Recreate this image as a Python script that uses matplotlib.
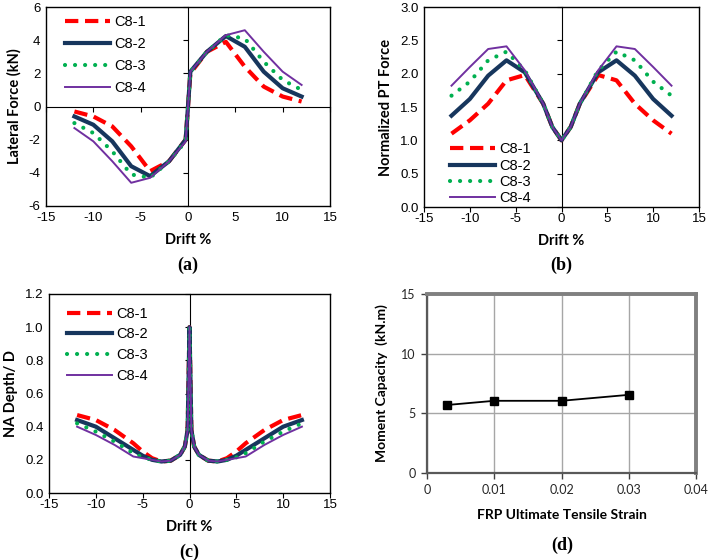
import numpy as np
import matplotlib
matplotlib.use('Agg')
import matplotlib.pyplot as plt

plt.rcParams['axes.unicode_minus'] = False

# ---------- data ----------
series = ['C8-1', 'C8-2', 'C8-3', 'C8-4']
colors = ['#FF0000', '#17365D', '#00B050', '#7030A0']

# (a) lateral force vs drift
drift_a = [-12, -10, -8, -6, -4, -2, -0.25, 0, 0.25, 2, 4, 6, 8, 10, 12]
force_c81 = [-0.3, -0.6, -1.2, -2.4, -3.9, -3.3, -2.0, 0, 2.0, 3.3, 3.9, 2.4, 1.2, 0.6, 0.3]
force_c82 = [-0.6, -1.1, -2.1, -3.6, -4.2, -3.3, -2.0, 0, 2.1, 3.3, 4.25, 3.6, 2.1, 1.1, 0.6]
force_c83 = [-1.0, -1.6, -2.7, -4.1, -4.3, -3.3, -2.1, 0, 2.1, 3.3, 4.3, 4.1, 2.7, 1.6, 1.0]
force_c84 = [-1.3, -2.1, -3.3, -4.6, -4.3, -3.3, -2.1, 0, 2.1, 3.3, 4.3, 4.6, 3.3, 2.1, 1.3]

# (b) normalized PT force vs drift
drift_b = [-12, -10, -8, -6, -4, -2, -1, 0, 1, 2, 4, 6, 8, 10, 12]
pt_c81 = [1.1, 1.3, 1.55, 1.9, 1.98, 1.55, 1.2, 1.0, 1.2, 1.55, 1.98, 1.9, 1.55, 1.3, 1.1]
pt_c82 = [1.37, 1.62, 1.97, 2.2, 2.02, 1.55, 1.2, 1.0, 1.2, 1.55, 2.02, 2.2, 1.97, 1.62, 1.37]
pt_c83 = [1.67, 1.88, 2.2, 2.33, 2.05, 1.55, 1.2, 1.0, 1.2, 1.55, 2.05, 2.33, 2.2, 1.88, 1.67]
pt_c84 = [1.82, 2.1, 2.37, 2.41, 2.05, 1.55, 1.2, 1.0, 1.2, 1.55, 2.05, 2.41, 2.37, 2.1, 1.82]

# (c) NA depth / D vs drift
drift_c = [-12, -10, -8, -6, -5, -4, -3, -2, -1, -0.5, -0.2, 0,
           0.2, 0.5, 1, 2, 3, 4, 5, 6, 8, 10, 12]
na_c81 = [0.47, 0.44, 0.38, 0.30, 0.25, 0.21, 0.19, 0.195, 0.23, 0.28, 0.38, 1.0,
          0.38, 0.28, 0.23, 0.195, 0.19, 0.21, 0.25, 0.30, 0.38, 0.44, 0.47]
na_c82 = [0.44, 0.40, 0.33, 0.26, 0.225, 0.2, 0.19, 0.195, 0.23, 0.28, 0.38, 1.0,
          0.38, 0.28, 0.23, 0.195, 0.19, 0.2, 0.225, 0.26, 0.33, 0.40, 0.44]
na_c83 = [0.42, 0.37, 0.31, 0.24, 0.215, 0.2, 0.19, 0.195, 0.23, 0.28, 0.38, 1.0,
          0.38, 0.28, 0.23, 0.195, 0.19, 0.2, 0.215, 0.24, 0.31, 0.37, 0.42]
na_c84 = [0.40, 0.35, 0.29, 0.22, 0.21, 0.2, 0.19, 0.195, 0.23, 0.28, 0.38, 1.0,
          0.38, 0.28, 0.23, 0.195, 0.19, 0.2, 0.21, 0.22, 0.29, 0.35, 0.40]

# (d) moment capacity vs FRP strain
frp_strain = [0.003, 0.01, 0.02, 0.03]
moment_cap = [5.7, 6.05, 6.05, 6.55]

W, H = 710, 560
fig = plt.figure(figsize=(W / 100, H / 100), dpi=100)

tick_font = 'Liberation Sans'
label_font = 'Lato'


def px_box(x0, y0, x1, y1):
    return [x0 / W, 1 - y1 / H, (x1 - x0) / W, (y1 - y0) / H]


def style_kwargs(i):
    if i == 0:
        return dict(color=colors[0], lw=3.0, ls=(0, (3.2, 1.6)))
    if i == 1:
        return dict(color=colors[1], lw=3.0, ls='-')
    if i == 2:
        return dict(color=colors[2], lw=3.0, ls=(0, (0.01, 2.4)), dash_capstyle='round')
    return dict(color=colors[3], lw=1.4, ls='-')


def cross_panel(box, x, ys, xlim, ylim, yticks, xlabel, ylabel, tag, tag_y,
                leg_anchor, leg_loc, yfmt, hline=False, leg_spacing=0.5):
    # frame + tick labels
    base = fig.add_axes(box)
    base.set_xlim(*xlim)
    base.set_ylim(*ylim)
    base.set_xticks(np.arange(-15, 16, 5))
    base.set_yticks(yticks)
    base.set_yticklabels([yfmt.format(v) for v in yticks])
    base.tick_params(length=0, labelsize=9.5, pad=4)
    for lab in base.get_xticklabels() + base.get_yticklabels():
        lab.set_fontfamily(tick_font)
    for s in base.spines.values():
        s.set_linewidth(1.0)
        s.set_color('black')
    base.set_xlabel(xlabel, fontfamily=label_font, fontweight='bold', fontsize=10.5, labelpad=7)
    base.set_ylabel(ylabel, fontfamily=label_font, fontweight='bold', fontsize=10.5, labelpad=5)

    # axes crossing at zero, with the ticks
    ax = fig.add_axes(box, sharex=base, sharey=base)
    ax.patch.set_visible(False)
    ax.spines['top'].set_visible(False)
    ax.spines['right'].set_visible(False)
    ax.spines['left'].set_position(('data', 0))
    ax.spines['bottom'].set_position(('data', 0))
    ax.spines['left'].set_linewidth(0.8)
    ax.spines['bottom'].set_linewidth(0.8 if hline else 0)
    ax.tick_params(direction='out', length=3.5, width=0.8, labelleft=False, labelbottom=False)

    for i, (name, y) in enumerate(zip(series, ys)):
        ax.plot(x, y, label=name, **style_kwargs(i), zorder=3)
    ax.legend(loc=leg_loc, bbox_to_anchor=leg_anchor, frameon=False, handlelength=3.1,
              handletextpad=0.3, labelspacing=leg_spacing, borderpad=0, borderaxespad=0,
              prop={'family': tick_font, 'size': 10.5})
    fig.text(box[0] + box[2] / 2, 1 - tag_y / H, tag, ha='center', va='center',
             fontfamily='Liberation Serif', fontweight='bold', fontsize=13)
    return ax


# (a)
cross_panel(px_box(46, 7, 330, 206), drift_a, [force_c81, force_c82, force_c83, force_c84],
            (-15, 15), (-6, 6), np.arange(-6, 7, 2), 'Drift %', 'Lateral Force (kN)',
            '(a)', 265, (0.067, 0.96), 'upper left', '{:.0f}', hline=True, leg_spacing=0.55)

# (b)
cross_panel(px_box(424, 7, 699, 207), drift_b, [pt_c81, pt_c82, pt_c83, pt_c84],
            (-15, 15), (0, 3), np.arange(0, 3.01, 0.5), 'Drift %', 'Normalized PT Force',
            '(b)', 265, (0.095, 0.01), 'lower left', '{:.1f}', leg_spacing=0.15)

# (c)
cross_panel(px_box(49, 294, 330, 493), drift_c, [na_c81, na_c82, na_c83, na_c84],
            (-15, 15), (0, 1.2), np.arange(0, 1.21, 0.2), 'Drift %', 'NA Depth/ D',
            '(c)', 552, (0.064, 0.935), 'upper left', '{:.1f}', leg_spacing=0.45)

# (d)
axd = fig.add_axes(px_box(427, 294, 696, 473))
axd.plot(frp_strain, moment_cap, color='black', lw=1.3, marker='s', ms=6, zorder=3)
axd.set_xlim(0, 0.04)
axd.set_ylim(0, 15)
axd.set_xticks([0, 0.01, 0.02, 0.03, 0.04])
axd.set_xticklabels(['0', '0.01', '0.02', '0.03', '0.04'])
axd.set_yticks([0, 5, 10, 15])
axd.grid(True, color='#A6A6A6', lw=1.0)
axd.set_axisbelow(True)
for s in axd.spines.values():
    s.set_color('#808080')
    s.set_linewidth(2.8)
axd.spines['left'].set_linewidth(1.6)
axd.spines['left'].set_color('#595959')
axd.spines['bottom'].set_linewidth(1.6)
axd.spines['bottom'].set_color('#595959')
axd.tick_params(direction='out', length=4, width=1, color='#404040', labelsize=9,
                labelcolor='#262626', pad=4)
for lab in axd.get_xticklabels() + axd.get_yticklabels():
    lab.set_fontfamily(label_font)
axd.set_xlabel('FRP Ultimate Tensile Strain', fontfamily=label_font, fontweight='bold',
               fontsize=10, labelpad=9)
axd.set_ylabel('Moment Capacity  (kN.m)', fontfamily=label_font, fontweight='bold',
               fontsize=10, labelpad=10)
fig.text((427 + 698) / 2 / W, 1 - 545 / H, '(d)', ha='center', va='center',
         fontfamily='Liberation Serif', fontweight='bold', fontsize=13)

fig.savefig('out.png', dpi=100)
